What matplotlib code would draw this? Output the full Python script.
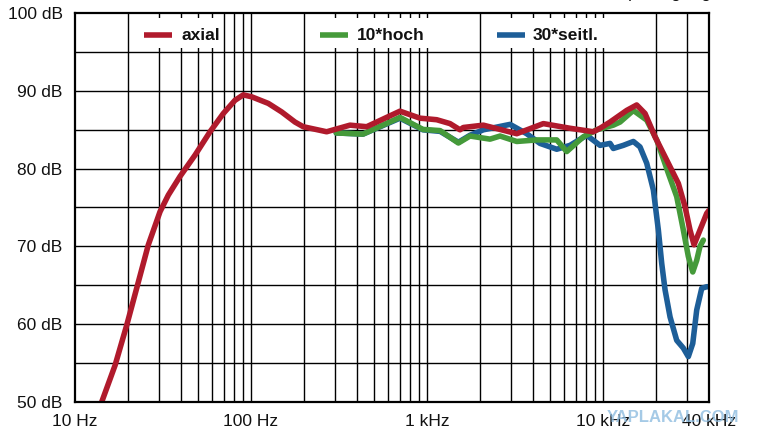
import numpy as np
import matplotlib
matplotlib.use("Agg")
import matplotlib.pyplot as plt
from matplotlib.patches import Rectangle

plt.rcParams['font.family'] = ['Liberation Sans', 'DejaVu Sans']

# ---------------- data ----------------
axial_f = [14.2, 16.9, 19.7, 22.9, 26.1, 30.4, 33.9, 39.5, 48.1, 58.5, 69.6, 81.1, 90.4,
           100.9, 125.4, 149.4, 177.8, 198, 269, 365, 454, 702, 912, 1135, 1351, 1540,
           1608, 2089, 3234, 4581, 6494, 8810, 9616, 10960, 12490, 13630, 15530, 17330,
           19750, 23010, 26790, 29240, 31200, 32890, 35560, 38830, 39900]
axial_db = [50.0, 54.7, 59.9, 65.4, 70.2, 74.45, 76.6, 79.0, 81.75, 84.75, 87.1, 88.8, 89.5,
            89.25, 88.4, 87.3, 86.0, 85.4, 84.75, 85.6, 85.4, 87.4, 86.5, 86.3, 85.8, 85.0,
            85.3, 85.6, 84.5, 85.8, 85.2, 84.75, 85.2, 86.0, 86.9, 87.5, 88.2, 87.1,
            84.1, 81.1, 78.1, 75.1, 72.1, 70.2, 72.1, 74.25, 74.6]

hoch_f = [305, 433, 702, 948, 1187, 1507, 1755, 2280, 2600, 3234, 4200, 5457, 6220,
          7727, 9210, 11440, 12490, 14870, 17710, 20190, 23500, 26220, 28590, 30520,
          32340, 34060, 35560, 37150]
hoch_db = [84.6, 84.45, 86.6, 85.05, 84.9, 83.3, 84.2, 83.8, 84.2, 83.5, 83.7, 83.7, 82.2,
           84.1, 85.0, 85.6, 86.0, 87.5, 86.25, 83.7, 79.4, 76.4, 72.1, 68.7,
           66.7, 68.2, 70.0, 70.8]

seitl_f = [305, 433, 702, 948, 1187, 1507, 1755, 2089, 2962, 3684, 4386, 5457, 6494,
           8075, 9616, 10960, 11440, 13040, 14870, 16220, 17710, 19320, 20620, 21550,
           22510, 24040, 26220, 28590, 30520, 32340, 34060, 36380, 38830, 39900]
seitl_db = [84.6, 84.45, 86.5, 85.0, 84.8, 83.4, 84.3, 85.0, 85.7, 84.5, 83.25, 82.5, 83.0,
            84.3, 83.0, 83.25, 82.6, 83.0, 83.5, 82.8, 80.7, 77.25, 72.1, 67.8,
            64.4, 60.9, 57.9, 56.9, 55.8, 57.5, 61.8, 64.6, 64.8, 64.8]

series_labels = ["axial", "10*hoch", "30*seitl."]
series_colors = ["#b01a2c", "#459a3a", "#1d5e98"]

x_tick_vals = [10, 100, 1000, 10000, 40000]
x_tick_labels = ["10 Hz", "100 Hz", "1 kHz", "10 kHz", "40 kHz"]
y_tick_vals = [50, 60, 70, 80, 90, 100]
y_tick_labels = ["50 dB", "60 dB", "70 dB", "80 dB", "90 dB", "100 dB"]

# ---------------- figure ----------------
fig = plt.figure(figsize=(7.68, 4.48), dpi=100)
ax = fig.add_axes([75/768, (448-401.7)/448, (709-75)/768, (401.7-13.3)/448])
ax.set_xscale('log')
ax.set_xlim(10, 40000)
ax.set_ylim(50, 100)

# grid
grid_f = [m * 10**d for d in range(1, 5) for m in range(1, 10)]
grid_f = [g for g in grid_f if 10 < g < 40000]
for g in grid_f:
    ax.axvline(g, color='black', lw=1.0, zorder=1)
for y in np.arange(55, 100, 5):
    ax.axhline(y, color='black', lw=1.0, zorder=1)

# white gaps in the legend band (ticks stay visible)
for (x0, x1) in [(24, 66), (250, 1200), (2500, 12000)]:
    ax.add_patch(Rectangle((x0, 95.55), x1 - x0, 99.35 - 95.55, facecolor='white',
                           edgecolor='none', zorder=2))

lw = 4.0
ax.plot(seitl_f, seitl_db, color=series_colors[2], lw=lw, zorder=3,
        solid_capstyle='round', solid_joinstyle='round')
ax.plot(hoch_f, hoch_db, color=series_colors[1], lw=lw, zorder=4,
        solid_capstyle='round', solid_joinstyle='round')
ax.plot(axial_f, axial_db, color=series_colors[0], lw=lw, zorder=5,
        solid_capstyle='round', solid_joinstyle='round')

# legend (drawn inside the top band)
leg_pos = [(24.7, 35.5, 40.5), (246.6, 355.6, 398), (2495, 3591, 4003)]
leg_y = 97.2
for (h0, h1, tx), lab, col in zip(leg_pos, series_labels, series_colors):
    ax.plot([h0, h1], [leg_y, leg_y], color=col, lw=lw, zorder=6, solid_capstyle='butt')
    ax.text(tx, leg_y, lab, fontsize=12.5, fontweight='bold', va='center', ha='left',
            color='#111111', zorder=6)

ax.set_xticks(x_tick_vals)
ax.set_xticklabels(x_tick_labels)
ax.xaxis.set_minor_locator(matplotlib.ticker.NullLocator())
ax.set_yticks(y_tick_vals)
ax.set_yticklabels(y_tick_labels)
ax.tick_params(axis='both', length=0, labelsize=12.5, colors='#111111')
ax.tick_params(axis='x', pad=9)
ax.tick_params(axis='y', pad=9)
for s in ax.spines.values():
    s.set_linewidth(1.6)
    s.set_color('black')
    s.set_zorder(7)

# cropped title at top edge and watermark
fig.text(712/768, 1 + 2.5/448, "Frequenzgang", ha='right', va='baseline', fontsize=13,
         color='#111111')
fig.text(673/768, 1 - 417/448, "YAPLAKAL.COM", ha='center', va='center', fontsize=12,
         fontweight='bold', color='#8fbde0', alpha=0.8)

fig.savefig("out.png", dpi=100)
